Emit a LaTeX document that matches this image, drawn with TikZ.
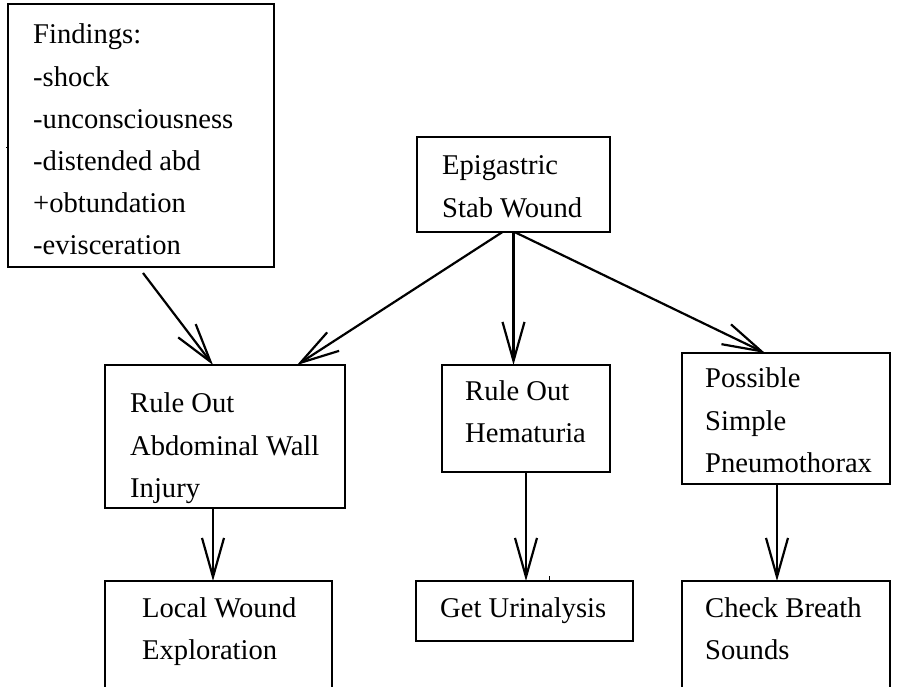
\documentclass[tikz,border=0pt]{standalone}
\usepackage{fontspec}
\setmainfont{Liberation Serif}
\usetikzlibrary{arrows.meta}
% left-aligned block of lines whose baseline is the first line's baseline
\newcommand\stacklines[1]{\parbox[t]{320pt}{\raggedright #1}}
\begin{document}
\begin{tikzpicture}[x=1pt,y=-1pt,
  box/.style={draw, line width=1.2pt, anchor=north west, inner sep=0pt, outer sep=0pt},
  txt/.style={anchor=base west, inner sep=0pt, font=\fontsize{28.6}{42.2}\selectfont},
  arr/.style={line width=2.2pt, -{Straight Barb[length=39pt,width=22pt]}}]
\clip (0,0) rectangle (898,687);
\fill[white] (0,0) rectangle (898,687);

% boxes
\node[box, minimum width=266pt, minimum height=263pt] (find) at (8,4) {};
\node[box, minimum width=193pt, minimum height=95pt] (epi) at (417,137) {};
\node[box, minimum width=240pt, minimum height=143pt] (rabd) at (105,365) {};
\node[box, minimum width=168pt, minimum height=107pt] (rhem) at (442,365) {};
\node[box, minimum width=208pt, minimum height=131pt] (poss) at (682,353) {};
\node[box, minimum width=227pt, minimum height=200pt] (local) at (105,581) {};
\node[box, minimum width=217pt, minimum height=60pt] (urin) at (416,581) {};
\node[box, minimum width=208pt, minimum height=200pt] (check) at (682,581) {};

% texts
\node[txt] (findT) at (33,44) {\stacklines{Findings:\\-shock\\-unconsciousness\\-distended abd\\+obtundation\\-evisceration}};
\node[txt] (epiT) at (442,175) {\stacklines{Epigastric\\Stab Wound}};
\node[txt] (rabdT) at (130,413) {\stacklines{Rule Out\\Abdominal Wall\\Injury}};
\node[txt] (rhemT) at (465,400) {\stacklines{Rule Out\\Hematuria}};
\node[txt] (possT) at (705,388) {\stacklines{Possible\\Simple\\Pneumothorax}};
\node[txt] (localT) at (142,617) {\stacklines{Local Wound\\Exploration}};
\node[txt] (urinT) at (440,617) {\stacklines{Get Urinalysis}};
\node[txt] (checkT) at (705,617) {\stacklines{Check Breath\\Sounds}};

% connectors
\draw[arr] ([shift={(2,6)}]find.south) -- ([xshift=-12]rabd.north);
\draw[arr] ([xshift=-11]epi.south) -- ([xshift=72]rabd.north);
\draw[arr] (epi.south) -- (epi.south |- rhem.north);
\draw[arr] ([xshift=1]epi.south) -- ([xshift=-21]poss.north);
\draw[arr] ([xshift=-12]rabd.south) -- ([xshift=-12]rabd.south |- local.north);
\draw[arr] (rhem.south) -- (rhem.south |- urin.north);
\draw[arr] ([xshift=-9]poss.south) -- ([xshift=-9]poss.south |- check.north);

% small stray marks
\draw[line width=0.6pt] (549,576) -- (549,581);
\draw[line width=0.6pt] (6,147) -- (8,147);
\end{tikzpicture}
\end{document}
